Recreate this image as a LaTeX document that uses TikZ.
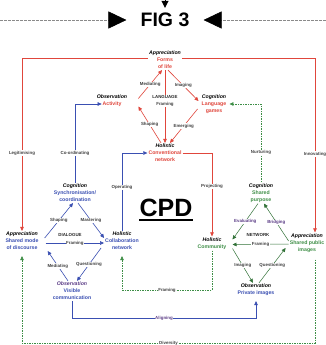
\documentclass[tikz,border=0pt]{standalone}
\usepackage{fontspec}
\setmainfont{Liberation Sans}
\usetikzlibrary{arrows.meta}
\definecolor{cpdred}{HTML}{E0463C}
\definecolor{cpdblue}{HTML}{3A4FB2}
\definecolor{cpdgreen}{HTML}{3E8E46}
\definecolor{cpdpurple}{HTML}{5B3C86}
\definecolor{cpdgray}{HTML}{8A8A8A}
\newcommand\catword[1]{\textit{#1}}
\newcommand\redtxt[1]{\textcolor{cpdred}{#1}}
\newcommand\bluetxt[1]{\textcolor{cpdblue}{#1}}
\newcommand\greentxt[1]{\textcolor{cpdgreen}{#1}}

\begin{document}
\begin{tikzpicture}[x=1pt,y=-1pt,
  ent/.style={align=center, font=\fontsize{5.2}{7}\selectfont\bfseries, inner sep=1pt},
  lbl/.style={font=\fontsize{4.4}{7}\selectfont\bfseries, text=black!75, fill=white, inner sep=0.6pt},
  caps/.style={font=\fontsize{4.4}{5}\selectfont\bfseries, text=black!85, inner sep=0.5pt},
  tip/.style={-{Triangle[length=4pt,width=3.6pt]}},
  rlink/.style={tip, draw=cpdred, line width=0.6pt},
  blink/.style={tip, draw=cpdblue, line width=0.6pt},
  glink/.style={tip, draw=cpdgreen, line width=0.55pt, dash pattern=on 1.6pt off 0.9pt},
  sglink/.style={tip, draw=cpdgreen!80!black, line width=0.5pt},
  figline/.style={draw=cpdgray, line width=0.5pt, dash pattern=on 3pt off 1pt,
    -{Triangle[length=18pt,width=17pt,color=black]}},
]
\useasboundingbox (0,0) rectangle (326,345);
\fill[white] (0,0) rectangle (326,345);

% title with its three pointers
\node[inner sep=0pt, font=\fontsize{19.5}{20}\selectfont\bfseries] (fig) at (165,20) {FIG 3};
\coordinate (figL) at (0,20);
\coordinate (figR) at (326,20);
\coordinate (figT) at (165,-4);
\draw[figline] (figL) -- ([xshift=-14pt]fig.west);
\draw[figline] (figR) -- ([xshift=14pt]fig.east);
\draw[line width=0.5pt, -{Triangle[length=7pt,width=7pt]}] (figT) -- ([yshift=5pt]fig.north);

% entities
\node[ent] (forms) at (165,60) {\catword{Appreciation}\\\redtxt{Forms}\\\redtxt{of life}};
\node[ent] (act) at (112,100.5) {\catword{Observation}\\\redtxt{Activity}};
\node[ent] (lang) at (214,104) {\catword{Cognition}\\\redtxt{Language}\\\redtxt{games}};
\node[ent] (conv) at (165,153) {\catword{Holistic}\\\redtxt{Conventional}\\\redtxt{network}};
\node[ent] (synch) at (75,193) {\catword{Cognition}\\\bluetxt{Synchronisation/}\\\bluetxt{coordination}};
\node[ent] (asm) at (22,241) {\catword{Appreciation}\\\bluetxt{Shared mode}\\\bluetxt{of discourse}};
\node[ent] (collab) at (122,241) {\catword{Holistic}\\\bluetxt{Collaboration}\\\bluetxt{network}};
\node[ent] (vis) at (72,291) {\textcolor{cpdpurple}{\itshape Observation}\\\bluetxt{Visible}\\\bluetxt{communication}};
\node[ent] (comm) at (212,243.5) {\catword{Holistic}\\\greentxt{Community}};
\node[ent] (purp) at (261,193) {\catword{Cognition}\\\greentxt{Shared}\\\greentxt{purpose}};
\node[ent] (apr) at (307,243) {\catword{Appreciation}\\\greentxt{Shared public}\\\greentxt{images}};
\node[ent] (priv) at (256,290) {\catword{Observation}\\\bluetxt{Private images}};

\node[inner sep=0pt, font=\fontsize{25}{26}\selectfont\bfseries] (cpd) at (166,208) {CPD};
\draw[line width=1.8pt] ([yshift=-3pt]cpd.south west) -- ([yshift=-3pt]cpd.south east);

% upper diamond
\draw[rlink] ([xshift=10pt,yshift=2pt]act.east) -- ([xshift=-3pt]forms.south) node[lbl,midway]{Mediating};
\draw[rlink] ([xshift=3pt]forms.south) -- ([xshift=-2pt,yshift=3pt]lang.west) node[lbl,midway]{Imaging};
\draw[rlink] ([xshift=-4pt]conv.north) -- ([xshift=10pt,yshift=-6pt]act.east) node[lbl,midway]{Shaping};
\draw[rlink] ([xshift=-3pt,yshift=-5pt]lang.west) -- ([xshift=5pt]conv.north) node[lbl,midway]{Emerging};
\draw[rlink] (forms.south) -- (conv.north) node[lbl,pos=0.42,align=center]{\textcolor{black!85}{LANGUAGE}\\Framing};

% long links
\draw[rlink] ([yshift=2pt]forms.west) -| (asm.north) node[lbl,pos=0.775]{Legitimising};
\draw[rlink] ([yshift=2pt]forms.east) -| ([xshift=8pt]apr.north) node[lbl,pos=0.775]{Innovating};
\draw[blink] (synch.north) |- ([xshift=6pt,yshift=-3.5pt]act.west) node[lbl,pos=0.19]{Co-ordinating};
\draw[glink] (purp.north) |- ([xshift=2pt]lang.east) node[lbl,pos=0.19]{Nurturing};
\draw[blink] (collab.north) |- (conv.west) node[lbl,pos=0.28]{Operating};
\draw[rlink] (conv.east) -| (comm.north) node[lbl,pos=0.7]{Projecting};

% left diamond
\draw[blink] ([xshift=5pt,yshift=3pt]asm.east) -- ([xshift=-2pt]synch.south) node[lbl,midway]{Shaping};
\draw[blink] ([xshift=3pt]synch.south) -- ([yshift=3pt]collab.west) node[lbl,midway]{Mastering};
\draw[blink] ([xshift=6pt,yshift=-2pt]asm.east) -- ([yshift=-2pt]collab.west) node[lbl,midway]{Framing};
\draw[blink] ([xshift=-3pt,yshift=-7pt]collab.west) -- ([xshift=5pt]vis.north) node[lbl,midway]{Questioning};
\draw[blink] ([xshift=-4pt]vis.north) -- ([xshift=8pt,yshift=-10pt]asm.east) node[lbl,midway]{Mediating};
\node[caps] (dlg) at (70,235) {DIALOGUE};

% right diamond
\draw[sglink] ([xshift=-3pt]purp.south) -- ([xshift=5pt,yshift=4pt]comm.east) node[lbl,midway,text=cpdpurple]{Evaluating};
\draw[sglink] ([xshift=0pt,yshift=2pt]apr.west) -- ([xshift=3pt]purp.south) node[lbl,midway,text=cpdpurple]{Bridging};
\draw[sglink] ([xshift=0pt,yshift=-1pt]apr.west) -- ([xshift=5pt,yshift=-1pt]comm.east) node[lbl,midway]{Framing};
\draw[sglink] ([xshift=5pt,yshift=-5pt]comm.east) -- ([xshift=-3pt]priv.north) node[lbl,midway]{Imaging};
\draw[sglink] ([xshift=3pt]priv.north) -- ([xshift=-3pt,yshift=-5pt]apr.west) node[lbl,midway]{Questioning};
\node[caps] (ntw) at (258,235) {NETWORK};

% bottom links
\coordinate (rowA) at (0,318);
\coordinate (rowB) at (0,290);
\coordinate (rowC) at (0,343);
\draw[blink, shorten >=4pt] (vis.south) -- (vis.south |- rowA) -- (priv.south |- rowA) node[lbl,midway,text=cpdpurple]{Aligning} -- (priv.south);
\draw[glink, shorten >=5pt] (comm.south) -- (comm.south |- rowB) -- (collab.south |- rowB) node[lbl,midway]{Framing} -- (collab.south);
\draw[glink, shorten <=6pt, shorten >=5pt] ([xshift=8pt]apr.south) -- ([xshift=8pt]apr.south |- rowC) -- (asm.south |- rowC) node[lbl,midway]{Diversity} -- (asm.south);
\end{tikzpicture}
\end{document}
